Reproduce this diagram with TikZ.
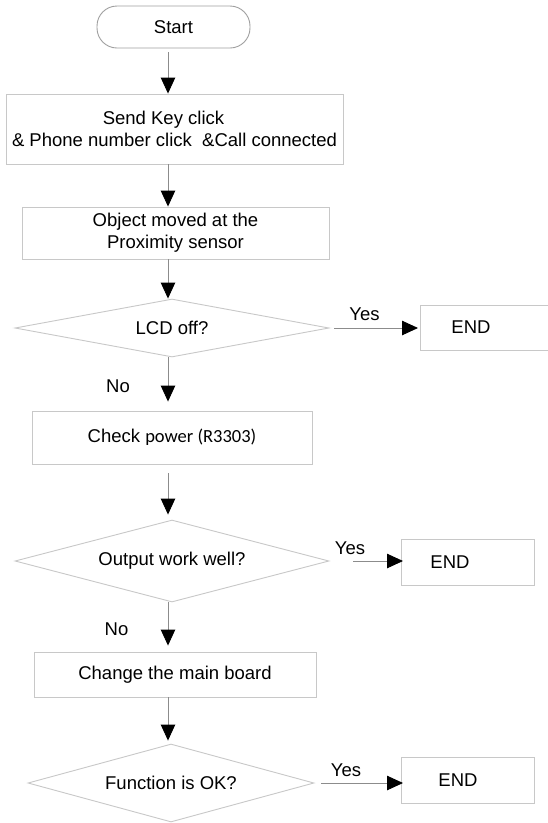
\documentclass[tikz,border=0pt]{standalone}
\usepackage{fontspec}
\setmainfont{Liberation Sans}
\newfontfamily\calibri{Carlito}
\usetikzlibrary{shapes.geometric,arrows.meta}
\definecolor{boxgray}{RGB}{200,200,200}
\definecolor{pillgray}{RGB}{160,160,160}
\definecolor{linegray}{RGB}{140,140,140}
\begin{document}
\begin{tikzpicture}[x=1pt,y=-1pt,
  every node/.style={font=\fontsize{18.5}{22}\selectfont, inner sep=0pt},
  box/.style={draw=boxgray, line width=0.9pt, rectangle, align=center},
  endbox/.style={draw=boxgray, line width=0.9pt, rectangle, align=left, anchor=west, minimum height=46pt},
  dec/.style={draw=boxgray, line width=0.9pt, diamond, aspect=4},
  arr/.style={draw=linegray, line width=0.9pt, -{Triangle[width=14.5pt,length=16pt,black]}},
  lbl/.style={}
]
\useasboundingbox (0,0) rectangle (547,823);
\fill[white] (0,0) rectangle (547,823);
\coordinate (col) at (168,0);

\node[draw=pillgray, line width=0.9pt, rounded corners=20pt, minimum width=153pt, minimum height=42pt] (start) at (173.5,27) {Start};
\node[box, minimum width=337pt, minimum height=70pt] (b1) at (174.5,129) {Send Key click\hspace*{22pt}\\\& Phone number click\ \ \&Call connected};
\node[box, minimum width=307pt, minimum height=52pt] (b2) at (175.5,233) {Object moved at the\\Proximity sensor};
\node[dec, minimum width=314pt, minimum height=58pt] (d1) at (172,328) {LCD off?};
\node[endbox, inner xsep=31pt, text width=73pt, minimum height=45pt] (e1) at (420,327.5) {END};
\node[box, minimum width=280pt, minimum height=53pt] (b3) at (172,437.5) {Check {\calibri power (R3303)}};
\node[dec, minimum width=314pt, minimum height=82pt] (d2) at (172,561) {Output work well?};
\node[endbox, inner xsep=29pt, text width=75pt] (e2) at (401,562) {END};
\node[box, minimum width=282pt, minimum height=45pt] (b4) at (175,674.5) {Change the main board};
\node[dec, minimum width=286pt, minimum height=78pt] (d3) at (171,783) {Function is OK?};
\node[endbox, inner xsep=37pt, text width=59pt] (e3) at (401,780) {END};

\node[lbl] (y1) at (364.5,314) {Yes};
\node[lbl] (y2) at (350,548) {Yes};
\node[lbl] (y3) at (346,770) {Yes};
\node[lbl] (n1) at (118,386) {No};
\node[lbl] (n2) at (116.5,629) {No};

\draw[arr, shorten <=4pt] (start.south -| col) -- (b1.north -| col);
\draw[arr] (b1.south -| col) -- (b2.north -| col);
\draw[arr] (b2.south -| col) -- (d1.north -| col);
\draw[arr, shorten >=9pt] (d1.south -| col) -- (b3.north -| col);
\draw[arr, shorten <=9pt, shorten >=5pt] (b3.south -| col) -- (d2.north -| col);
\draw[arr, shorten >=6pt] (d2.south -| col) -- (b4.north -| col);
\draw[arr, shorten >=3pt] (b4.south -| col) -- (d3.north -| col);

\draw[arr, shorten <=5pt, shorten >=2pt] (d1.east) -- (e1.west |- d1.east);
\draw[arr, shorten <=24pt, shorten >=-2pt] (d2.east) -- (e2.west |- d2.east);
\draw[arr, shorten <=7pt, shorten >=-2pt] (d3.east) -- (e3.west |- d3.east);
\end{tikzpicture}
\end{document}
